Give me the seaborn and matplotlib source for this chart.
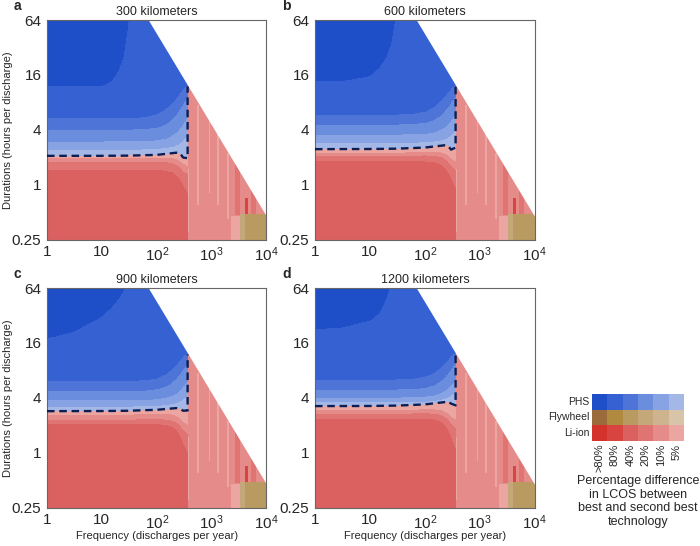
import numpy as np
import matplotlib
matplotlib.use("Agg")
import matplotlib.pyplot as plt
from matplotlib.colors import ListedColormap, BoundaryNorm
from matplotlib.ticker import FixedLocator, NullFormatter
import seaborn as sns

# ---------------- data ----------------
TITLES = ["300 kilometers", "600 kilometers", "900 kilometers", "1200 kilometers"]
LETTERS = ["a", "b", "c", "d"]
X_TICKS = [1, 10, 100, 1000, 10000]
X_TICK_LABELS = ["1", "10", r"$\mathregular{10^2}$", r"$\mathregular{10^3}$", r"$\mathregular{10^4}$"]
Y_TICKS = [0.25, 1, 4, 16, 64]
Y_TICK_LABELS = ["0.25", "1", "4", "16", "64"]
TECHS = ["PHS", "Flywheel", "Li-ion"]
PCT_LABELS = [">80%", "80%", "40%", "20%", "10%", "5%"]

FEASIBLE_LIMIT = 4500          # max frequency x duration (white area beyond)
PHS_MAX_FREQ = 365             # PHS only competes up to this frequency

# boundary of the darkest PHS zone (>80% / 80%)
DARK_FREQ = [1, 3, 10, 15, 20, 25, 30, 35]
DARK_DUR = [
    [12.0, 12.0, 12.0, 13.6, 17.5, 25.5, 55, 100],
    [13.6, 13.6, 15.5, 19.2, 25.0, 37.0, 75, 110],
    [17.9, 21.0, 31.0, 39.0, 48.0, 60.0, 75, 100],
    [22.6, 23.5, 28.0, 34.0, 49.0, 75.0, 100, 130],
]

BAND_FREQ = [1, 10, 30, 60, 100, 150, 200, 250, 300, 365]
PHS_80_40 = [
    [5.40, 5.40, 5.40, 5.50, 5.90, 6.8, 8.0, 9.5, 11.0, 12.5],
    [5.86, 5.86, 5.86, 5.95, 6.30, 7.1, 8.3, 9.7, 11.2, 12.5],
    [6.10, 6.10, 6.10, 6.20, 6.50, 7.3, 8.4, 9.8, 11.2, 12.5],
    [6.36, 6.36, 6.36, 6.45, 6.80, 7.5, 8.6, 9.9, 11.3, 12.5],
]
PHS_40_20 = [
    [4.00, 4.00, 4.00, 4.05, 4.20, 4.60, 5.30, 6.30, 7.50, 9.0],
    [4.55, 4.55, 4.55, 4.60, 4.75, 5.10, 5.80, 6.70, 7.80, 9.2],
    [4.75, 4.75, 4.75, 4.80, 4.95, 5.30, 6.00, 6.90, 8.00, 9.4],
    [4.93, 4.93, 4.93, 4.98, 5.10, 5.50, 6.10, 7.00, 8.10, 9.5],
]
PHS_20_10 = [
    [2.97, 2.97, 2.98, 3.00, 3.05, 3.20, 3.50, 3.90, 4.50, 5.5],
    [3.52, 3.52, 3.53, 3.55, 3.60, 3.75, 4.00, 4.40, 5.00, 5.9],
    [3.75, 3.75, 3.76, 3.78, 3.85, 4.00, 4.25, 4.60, 5.20, 6.0],
    [4.00, 4.00, 4.01, 4.03, 4.10, 4.25, 4.50, 4.85, 5.40, 6.2],
]
PHS_10_5 = [
    [2.41, 2.41, 2.42, 2.44, 2.47, 2.52, 2.60, 2.75, 3.00, 3.5],
    [2.85, 2.85, 2.86, 2.88, 2.92, 2.97, 3.05, 3.20, 3.45, 3.9],
    [3.20, 3.20, 3.21, 3.23, 3.27, 3.33, 3.42, 3.55, 3.80, 4.2],
    [3.55, 3.55, 3.56, 3.58, 3.63, 3.70, 3.80, 3.95, 4.20, 4.6],
]
LI_5_10 = [
    [1.95, 1.95, 1.95, 1.97, 1.98, 1.98, 1.95, 1.85, 1.70, 1.60],
    [2.23, 2.23, 2.24, 2.26, 2.28, 2.28, 2.25, 2.15, 1.95, 1.80],
    [2.60, 2.60, 2.61, 2.63, 2.65, 2.65, 2.60, 2.45, 2.20, 2.00],
    [2.93, 2.93, 2.94, 2.96, 2.98, 2.98, 2.92, 2.75, 2.50, 2.30],
]
LI_10_20 = [
    [1.76, 1.76, 1.76, 1.77, 1.77, 1.76, 1.70, 1.60, 1.40, 1.30],
    [2.06, 2.06, 2.06, 2.07, 2.08, 2.07, 2.00, 1.85, 1.60, 1.45],
    [2.30, 2.30, 2.30, 2.31, 2.32, 2.30, 2.22, 2.05, 1.80, 1.60],
    [2.67, 2.67, 2.67, 2.68, 2.69, 2.67, 2.58, 2.40, 2.10, 1.85],
]
LI_20_40 = [
    [1.45, 1.45, 1.45, 1.45, 1.45, 1.42, 1.35, 1.20, 1.00, 0.80],
    [1.79, 1.79, 1.79, 1.79, 1.79, 1.76, 1.65, 1.45, 1.20, 0.90],
    [2.05, 2.05, 2.05, 2.05, 2.05, 2.00, 1.90, 1.65, 1.30, 1.00],
    [2.35, 2.35, 2.35, 2.35, 2.35, 2.30, 2.18, 1.90, 1.50, 1.10],
]

# dashed PHS / Li-ion frontier
DASH_FREQ = [1, 10, 30, 100, 228, 263, 302, 365]
DASH_DUR = [
    [2.07, 2.07, 2.08, 2.12, 2.24, 2.23, 1.98, 1.95],
    [2.45, 2.46, 2.48, 2.55, 2.70, 2.68, 2.42, 2.55],
    [2.85, 2.86, 2.88, 2.95, 3.08, 3.05, 2.88, 2.90],
    [3.24, 3.25, 3.28, 3.38, 3.58, 3.65, 3.45, 3.30],
]

# high-frequency Li-ion streaks (f > 365)
STREAK_F0 = [365, 540, 880, 1250, 1900, 2650, 4000, 5300, 2300]
STREAK_F1 = [395, 600, 950, 1350, 2050, 3250, 4500, 6500, 3300]
STREAK_D0 = [0.30, 0.60, 0.80, 0.60, 0.42, 0.46, 0.48, 0.48, 0.25]
STREAK_D1 = [1.50, 7.50, 5.40, 4.50, 2.20, 1.80, 0.71, 1.00, 0.45]
STREAK_PCT = ["5%", "5%", "5%", "5%", "5%", "20%", "80%", "20%", "5%"]

# flywheel corner
FLY_F0 = [3300, 4000]
FLY_F1 = [4000, 10000]
FLY_D0 = [0.25, 0.25]
FLY_D1 = [0.48, 0.48]
FLY_PCT = ["20%", "40%"]

# ---------------- style ----------------
COLORS = [
    "#1e4ec8", "#3561d2", "#4f74d8", "#6b8dde", "#88a3e3", "#a4b8e8",   # PHS
    "#9c6b3c", "#b08a3e", "#b99a60", "#c4a87a", "#cdb48e", "#d8c4a8",   # Flywheel
    "#d4322d", "#d8443f", "#db6161", "#e07472", "#e58b89", "#eba6a2",   # Li-ion
]

sns.set_style("white")
plt.rcParams["font.family"] = ["Liberation Sans", "DejaVu Sans"]
plt.rcParams["mathtext.fontset"] = "custom"
plt.rcParams["mathtext.rm"] = "Liberation Sans"

cmap = ListedColormap(COLORS)
norm = BoundaryNorm(np.arange(-0.5, 18.5, 1), 18)


def curve(fq, nodes_f, nodes_d):
    return 2 ** np.interp(np.log10(fq), np.log10(nodes_f), np.log2(nodes_d))


def code(tech, pct):
    return TECHS.index(tech) * 6 + PCT_LABELS.index(pct)


fg = np.logspace(0, 4, 700)
dg = np.logspace(np.log10(0.25), np.log10(64), 700)
F, D = np.meshgrid(fg, dg)

fig = plt.figure(figsize=(7.0, 5.46), dpi=100)
W, H = 700, 546
ax_px = [(47, 20), (315, 20), (47, 288), (315, 288)]

for i in range(4):
    x0, y0 = ax_px[i]
    ax = fig.add_axes([x0 / W, 1 - (y0 + 219.5) / H, 219.5 / W, 219.5 / H])

    b1 = curve(fg, DARK_FREQ, DARK_DUR[i])
    b2 = curve(fg, BAND_FREQ, PHS_80_40[i])
    b3 = curve(fg, BAND_FREQ, PHS_40_20[i])
    b4 = curve(fg, BAND_FREQ, PHS_20_10[i])
    b5 = curve(fg, BAND_FREQ, PHS_10_5[i])
    l1 = curve(fg, BAND_FREQ, LI_5_10[i])
    l2 = curve(fg, BAND_FREQ, LI_10_20[i])
    l3 = curve(fg, BAND_FREQ, LI_20_40[i])
    dash = curve(fg, DASH_FREQ, DASH_DUR[i])

    phs_lvl = np.select([D >= b1, D >= b2, D >= b3, D >= b4, D >= b5],
                        [0, 1, 2, 3, 4], 5)
    li_lvl = 12 + np.select([D >= l1, D >= l2, D >= l3], [5, 4, 3], 2)
    grid = np.where(F <= PHS_MAX_FREQ,
                    np.where(D >= dash, phs_lvl, li_lvl),
                    code("Li-ion", "10%"))
    for f0, f1, d0, d1, p in zip(STREAK_F0, STREAK_F1, STREAK_D0, STREAK_D1, STREAK_PCT):
        m = (F > f0) & (F <= f1) & (D >= d0) & (D <= d1)
        grid[m] = code("Li-ion", p)
    for f0, f1, d0, d1, p in zip(FLY_F0, FLY_F1, FLY_D0, FLY_D1, FLY_PCT):
        m = (F > f0) & (F <= f1) & (D >= d0) & (D <= d1)
        grid[m] = code("Flywheel", p)

    ax.pcolormesh(fg, dg, grid, cmap=cmap, norm=norm, shading="nearest",
                  rasterized=True, zorder=1)
    ax.fill_between(fg, FEASIBLE_LIMIT / fg, 200, color="white", lw=0, zorder=2)

    dfx = list(DASH_FREQ) + [PHS_MAX_FREQ]
    dfy = list(DASH_DUR[i]) + [FEASIBLE_LIMIT / PHS_MAX_FREQ * 0.97]
    ax.plot(dfx, dfy, color="#0c1f55", lw=1.7, ls=(0, (3.2, 2.0)), zorder=3,
            solid_capstyle="butt", dash_capstyle="butt")

    ax.set_xscale("log")
    ax.set_yscale("log", base=2)
    ax.set_xlim(1, 1e4)
    ax.set_ylim(0.25, 64)
    ax.xaxis.set_major_locator(FixedLocator(X_TICKS))
    ax.set_xticklabels(X_TICK_LABELS)
    ax.xaxis.set_minor_locator(FixedLocator(
        [m * 10 ** e for e in range(4) for m in range(2, 10)]))
    ax.xaxis.set_minor_formatter(NullFormatter())
    ax.yaxis.set_major_locator(FixedLocator(Y_TICKS))
    ax.set_yticklabels(Y_TICK_LABELS)
    ax.yaxis.set_minor_locator(FixedLocator([0.5, 2, 8, 32]))
    ax.yaxis.set_minor_formatter(NullFormatter())
    ax.tick_params(which="both", direction="in", top=True, right=True,
                   color="#555555", labelsize=11, pad=4)
    ax.tick_params(which="major", length=3.5, width=0.7)
    ax.tick_params(which="minor", length=2, width=0.6)
    for s in ax.spines.values():
        s.set_color("#666666")
        s.set_linewidth(0.8)

    cx = (x0 + 110) / W
    fig.text(cx, 1 - (y0 - 8) / H, TITLES[i], ha="center", va="center", fontsize=9)
    fig.text((x0 - 33) / W, 1 - (y0 - 14) / H, LETTERS[i], ha="left", va="center",
             fontsize=10, fontweight="bold")
    if i in (0, 2):
        fig.text(8 / W, 1 - (y0 + 110) / H, "Durations (hours per discharge)",
                 rotation=90, ha="center", va="center", fontsize=8)
    if i in (2, 3):
        fig.text(cx, 1 - 536 / H, "Frequency (discharges per year)",
                 ha="center", va="center", fontsize=8)

# ---------------- legend ----------------
lax = fig.add_axes([592 / W, 1 - 441 / H, 92 / W, 47 / H])
mat = np.array([[t * 6 + p for p in range(6)] for t in range(3)])
sns.heatmap(mat, ax=lax, cmap=cmap, vmin=-0.5, vmax=17.5, cbar=False,
            xticklabels=PCT_LABELS, yticklabels=TECHS, linewidths=0)
lax.tick_params(length=0, pad=2)
lax.set_yticklabels(TECHS, rotation=0, fontsize=7.5)
lax.set_xticklabels(PCT_LABELS, rotation=90, fontsize=8, va="top")
for k, line in enumerate(["Percentage difference", "in LCOS between",
                          "best and second best", "technology"]):
    fig.text(638 / W, 1 - (481 + 13.5 * k) / H, line,
             ha="center", va="center", fontsize=9)

fig.savefig("out.png", dpi=100)
